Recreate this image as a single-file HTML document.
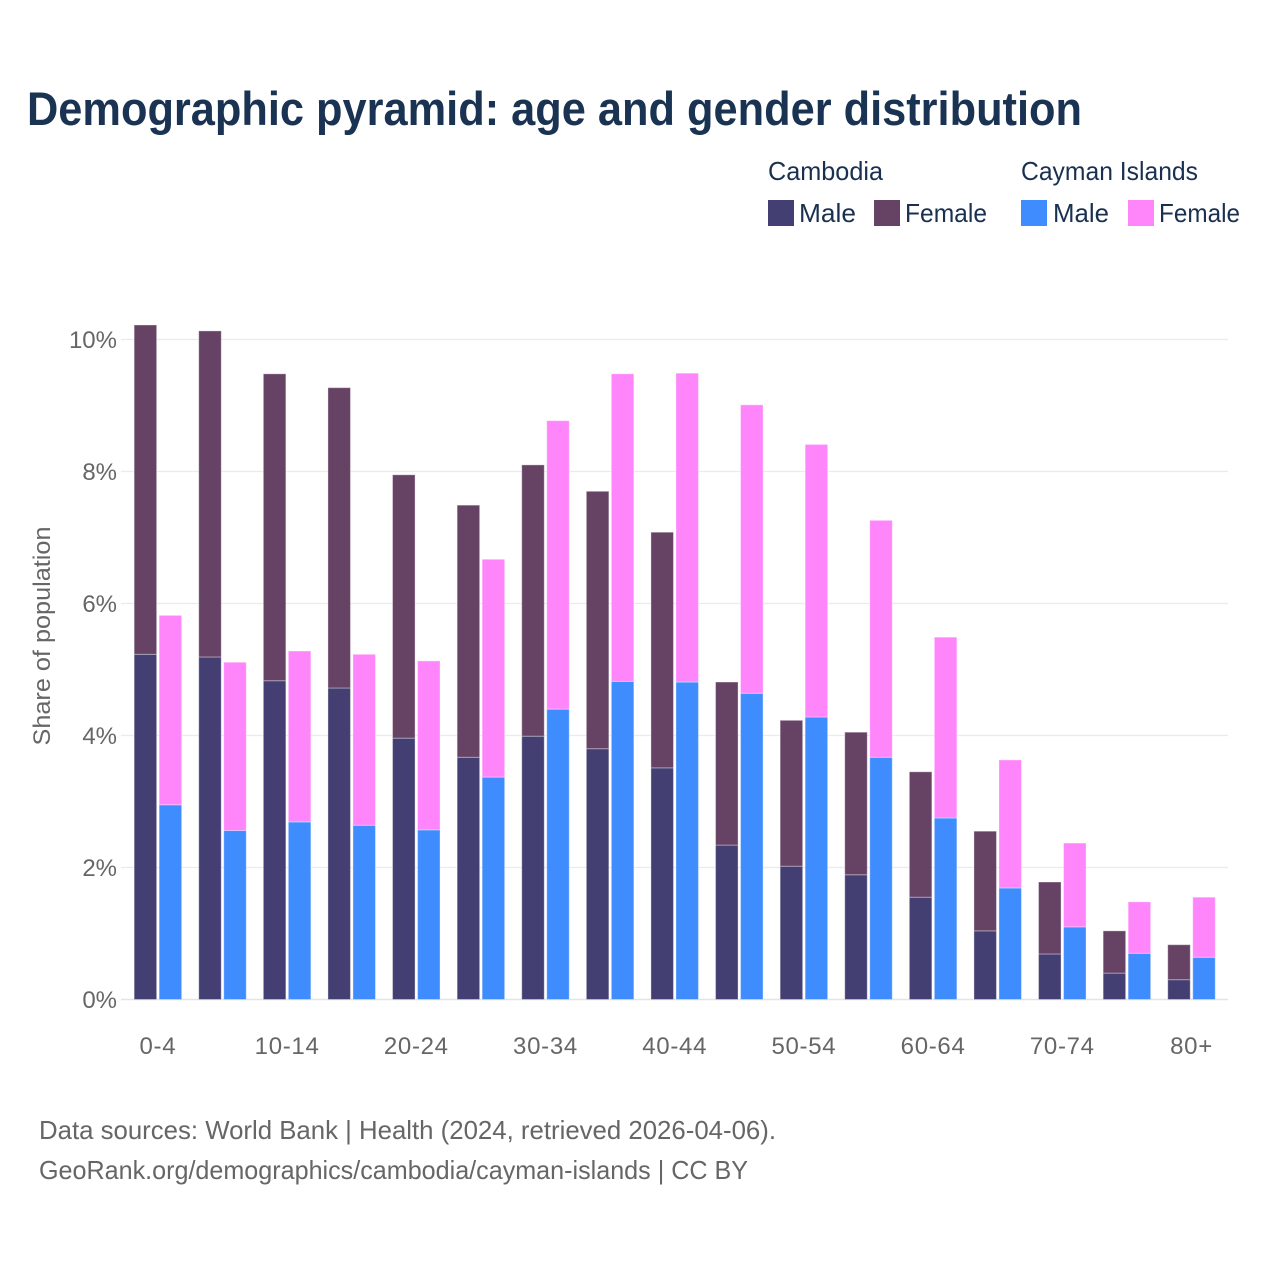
<!DOCTYPE html>
<html lang="en">
<head>
<meta charset="utf-8">
<title>Demographic pyramid: age and gender distribution</title>
<style>
  html, body { margin: 0; padding: 0; background: #fff; }
  svg { display: block; font-family: "Liberation Sans", Arial, sans-serif; }
</style>
</head>
<body>
<svg id="chart" xmlns="http://www.w3.org/2000/svg" width="1280" height="1280" viewBox="0 0 1280 1280">
  <rect x="0" y="0" width="1280" height="1280" fill="#ffffff"/>
  <text x="27" y="125" font-size="47" font-weight="700" fill="#1a3353" textLength="1055" lengthAdjust="spacingAndGlyphs">Demographic pyramid: age and gender distribution</text>

  <g font-size="26" fill="#1a3050">
    <text x="768" y="180" textLength="115" lengthAdjust="spacingAndGlyphs">Cambodia</text>
    <text x="1021" y="180" textLength="177" lengthAdjust="spacingAndGlyphs">Cayman Islands</text>
    <rect x="768" y="200" width="26" height="26" fill="#433f72"/>
    <text x="799" y="222" textLength="57" lengthAdjust="spacingAndGlyphs">Male</text>
    <rect x="874" y="200" width="26" height="26" fill="#664264"/>
    <text x="905" y="222" textLength="82" lengthAdjust="spacingAndGlyphs">Female</text>
    <rect x="1021" y="200" width="26" height="26" fill="#3f8cff"/>
    <text x="1053" y="222" textLength="56" lengthAdjust="spacingAndGlyphs">Male</text>
    <rect x="1128" y="200" width="26" height="26" fill="#ff85fb"/>
    <text x="1159" y="222" textLength="81" lengthAdjust="spacingAndGlyphs">Female</text>
  </g>

  <g id="grid"></g>
  <g id="yticks"></g>
  <g id="bars"></g>
  <g id="xticks"></g>

  <text transform="translate(50,636) rotate(-90)" text-anchor="middle" font-size="24" fill="#666666" textLength="219" lengthAdjust="spacingAndGlyphs">Share of population</text>

  <text x="39" y="1139" font-size="26" fill="#666666" textLength="737" lengthAdjust="spacingAndGlyphs">Data sources: World Bank | Health (2024, retrieved 2026-04-06).</text>
  <text x="39" y="1179" font-size="26" fill="#666666" textLength="709" lengthAdjust="spacingAndGlyphs">GeoRank.org/demographics/cambodia/cayman-islands | CC BY</text>
</svg>
<script>
const ageGroups = ["0-4","5-9","10-14","15-19","20-24","25-29","30-34","35-39","40-44","45-49","50-54","55-59","60-64","65-69","70-74","75-79","80+"];
const cambodiaMale = [5.23,5.19,4.83,4.72,3.96,3.67,3.99,3.80,3.51,2.34,2.02,1.89,1.55,1.04,0.69,0.40,0.30];
const cambodiaFemale = [4.99,4.94,4.65,4.55,3.99,3.82,4.11,3.90,3.57,2.47,2.21,2.16,1.90,1.51,1.09,0.64,0.53];
const caymanMale = [2.95,2.56,2.69,2.64,2.57,3.37,4.40,4.82,4.81,4.64,4.28,3.67,2.75,1.69,1.10,0.70,0.64];
const caymanFemale = [2.87,2.55,2.59,2.59,2.56,3.30,4.37,4.66,4.68,4.37,4.13,3.59,2.74,1.94,1.27,0.78,0.91];
const yTickValues = [0,2,4,6,8,10];

const NS = "http://www.w3.org/2000/svg";
const y = v => 999.5 - v * 66;
const xCenter = i => 157.9 + i * 64.6;

function make(tag, parent, attrs, text) {
  const el = document.createElementNS(NS, tag);
  for (const k in attrs) el.setAttribute(k, attrs[k]);
  if (text !== undefined) el.textContent = text;
  parent.appendChild(el);
  return el;
}

const gridG = document.getElementById("grid");
const yTicksG = document.getElementById("yticks");
yTickValues.forEach(v => {
  const line = make("line", gridG, {x1: 121, x2: 1228, y1: y(v), y2: y(v), stroke: v === 0 ? "#e4e4e4" : "#ebebeb", "stroke-width": v === 0 ? 1.6 : 1.2});
  
  
  const label = make("text", yTicksG, {x: 117, y: y(v) + 8.5, "text-anchor": "end", "font-size": 24, fill: "#666666"}, v + "%");
  
  
});

const barsG = document.getElementById("bars");
function bar(parent, x, base, value, color) {
  const r = make("rect", parent, {x: x, y: y(base + value), width: 22.5, height: y(base) - y(base + value), fill: color, stroke: "#ffffff", "stroke-opacity": 0.35, "stroke-width": 1});
  return r;
}
ageGroups.forEach((age, i) => {
  const c = xCenter(i);
  const xCam = c - 23.75;
  const xCay = c + 1.25;
  const m1 = bar(barsG, xCam, 0, cambodiaMale[i], "#433f72");
  
  
  const f1 = bar(barsG, xCam, cambodiaMale[i], cambodiaFemale[i], "#664264");
  
  
  const m2 = bar(barsG, xCay, 0, caymanMale[i], "#3f8cff");
  
  
  const f2 = bar(barsG, xCay, caymanMale[i], caymanFemale[i], "#ff85fb");
  
  
});

const xTicksG = document.getElementById("xticks");
ageGroups.forEach((age, i) => {
  if (i % 2 !== 0) return;
  const t = make("text", xTicksG, {x: xCenter(i), y: 1054, "text-anchor": "middle", "font-size": 24, "letter-spacing": 0.7, fill: "#666666"}, age);
  
  
});
</script>
</body>
</html>
